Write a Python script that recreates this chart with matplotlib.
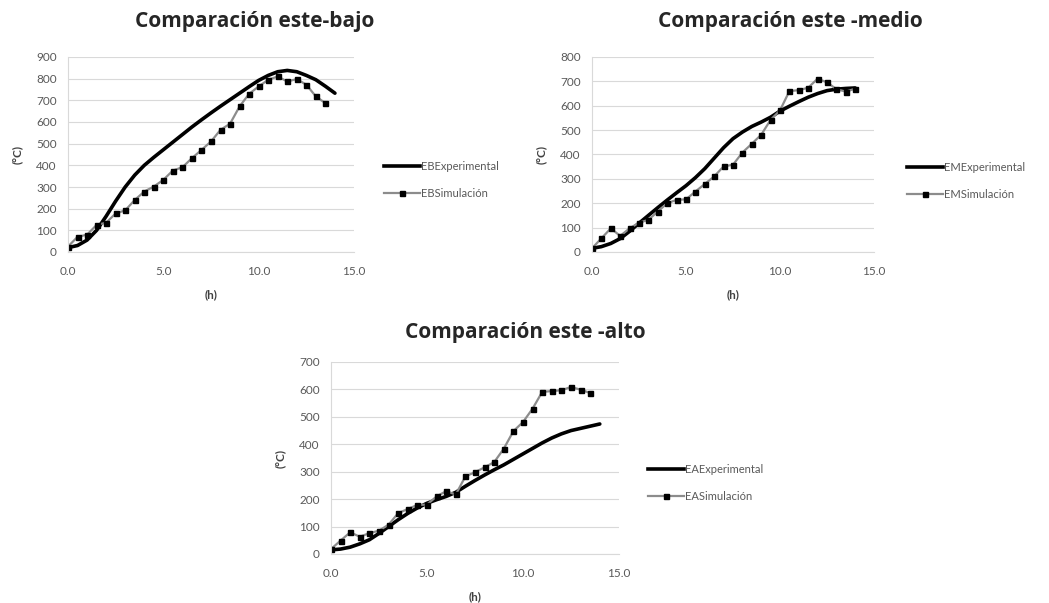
import matplotlib
matplotlib.use("Agg")
import matplotlib.pyplot as plt
from matplotlib.lines import Line2D

plt.rcParams['font.family'] = ['Lato', 'DejaVu Sans']

# ---------------- data ----------------
hours_exp = [0.0, 0.5, 1.0, 1.5, 2.0, 2.5, 3.0, 3.5, 4.0, 4.5, 5.0, 5.5, 6.0, 6.5, 7.0,
             7.5, 8.0, 8.5, 9.0, 9.5, 10.0, 10.5, 11.0, 11.5, 12.0, 12.5, 13.0, 13.5, 14.0]

eb_exp = [20, 30, 55, 100, 165, 235, 300, 355, 400, 437, 472, 507, 542, 577, 610,
          642, 673, 703, 733, 763, 792, 815, 832, 838, 832, 815, 795, 765, 733]
em_exp = [15, 22, 35, 55, 85, 118, 150, 182, 213, 243, 272, 305, 342, 385, 428,
          465, 492, 515, 533, 553, 578, 598, 617, 635, 650, 662, 668, 671, 673]
ea_exp = [15, 18, 25, 37, 52, 75, 100, 125, 148, 168, 185, 198, 210, 225, 247,
          268, 288, 307, 325, 345, 365, 385, 405, 423, 438, 450, 458, 466, 474]

hours_sim = [0.0, 0.5, 1.0, 1.5, 2.0, 2.5, 3.0, 3.5, 4.0, 4.5, 5.0, 5.5, 6.0, 6.5,
             7.0, 7.5, 8.0, 8.5, 9.0, 9.5, 10.0, 10.5, 11.0, 11.5, 12.0, 12.5, 13.0, 13.5]
hours_sim_em = hours_sim + [14.0]

eb_sim = [25, 70, 80, 125, 135, 178, 192, 240, 279, 302, 333, 376, 391, 433,
          471, 510, 564, 592, 672, 730, 764, 795, 810, 787, 798, 772, 718, 687]
em_sim = [15, 56, 97, 66, 97, 120, 132, 166, 200, 214, 216, 248, 279, 310,
          351, 358, 408, 444, 481, 542, 581, 660, 664, 674, 711, 696, 668, 658, 670]
ea_sim = [18, 49, 79, 63, 76, 85, 107, 149, 164, 179, 180, 210, 229, 217,
          283, 298, 316, 335, 384, 448, 481, 530, 591, 594, 597, 609, 599, 587]

titles = ["Comparación este-bajo", "Comparación este -medio", "Comparación este -alto"]
labels_exp = ["EBExperimental", "EMExperimental", "EAExperimental"]
labels_sim = ["EBSimulación", "EMSimulación", "EASimulación"]
x_ticks = [0.0, 5.0, 10.0, 15.0]

# ---------------- layout ----------------
W, H = 1049, 603
fig = plt.figure(figsize=(W / 100, H / 100), dpi=100)

def px_axes(x0, x1, ytop, ybot):
    return fig.add_axes([x0 / W, 1 - ybot / H, (x1 - x0) / W, (ybot - ytop) / H])

panels = [
    dict(box=(68, 354, 57, 252), ymax=900, exp=eb_exp, xs=hours_sim, sim=eb_sim,
         title_xy=(255, 22), leg_xy=(384, 180)),
    dict(box=(592, 874, 57, 252), ymax=800, exp=em_exp, xs=hours_sim_em, sim=em_sim,
         title_xy=(790, 22), leg_xy=(907, 181)),
    dict(box=(331, 619, 362, 554), ymax=700, exp=ea_exp, xs=hours_sim, sim=ea_sim,
         title_xy=(525, 332), leg_xy=(648, 483)),
]

grid_c = '#d9d9d9'
tick_c = '#595959'

for i, p in enumerate(panels):
    ax = px_axes(*p['box'])
    ax.plot(hours_exp, p['exp'], color='black', lw=2.6, solid_capstyle='round')
    ax.plot(p['xs'], p['sim'], color='#8c8c8c', lw=1.6, marker='s', ms=3.6,
            mfc='black', mec='black')
    ax.set_xlim(0, 15)
    ax.set_ylim(0, p['ymax'])
    ax.set_xticks(x_ticks)
    ax.set_xticklabels([f"{v:.1f}" for v in x_ticks])
    ax.set_yticks(range(0, p['ymax'] + 1, 100))
    ax.grid(axis='y', color=grid_c, lw=0.8)
    ax.set_axisbelow(True)
    for s in ['top', 'right']:
        ax.spines[s].set_visible(False)
    for s in ['left', 'bottom']:
        ax.spines[s].set_color(grid_c)
        ax.spines[s].set_linewidth(0.8)
    ax.tick_params(axis='y', length=0, labelsize=8.5, labelcolor=tick_c, pad=8)
    ax.tick_params(axis='x', length=0, labelsize=8.5, labelcolor=tick_c, pad=10)
    ax.set_xlabel("(h)", fontsize=8.5, fontweight='bold', color='#404040', labelpad=9)
    ax.set_ylabel("(°C)", fontsize=8.5, fontweight='bold', color='#404040', labelpad=10)
    tx, ty = p['title_xy']
    fig.text(tx / W, 1 - ty / H, titles[i], ha='center', va='center',
             fontsize=15, fontweight='bold', color='#262626', family=['Open Sans', 'DejaVu Sans'])
    handles = [Line2D([], [], color='black', lw=2.6),
               Line2D([], [], color='#8c8c8c', lw=1.6, marker='s', ms=3.6,
                      mfc='black', mec='black')]
    lx, ly = p['leg_xy']
    fig.legend(handles, [labels_exp[i], labels_sim[i]], loc='center left',
               bbox_to_anchor=(lx / W, 1 - ly / H), frameon=False, fontsize=8,
               labelcolor=tick_c, handlelength=3.2, handletextpad=0.1,
               labelspacing=1.45, borderaxespad=0, borderpad=0)

fig.savefig("out.png", dpi=100)
